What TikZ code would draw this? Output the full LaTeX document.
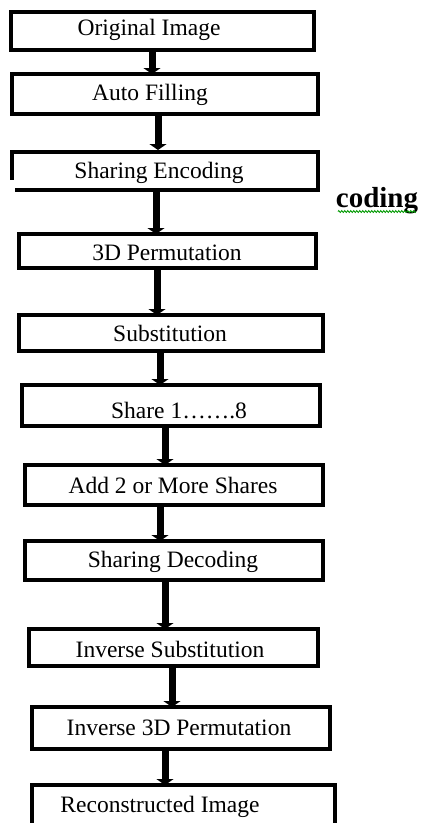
\documentclass[tikz,border=0pt]{standalone}
\usepackage{fontspec}
\setmainfont{Liberation Serif}
\usetikzlibrary{arrows.meta,decorations.pathmorphing}
\begin{document}
\begin{tikzpicture}[x=1pt,y=-1pt,
  box/.style={draw=black,line width=4pt,inner sep=0pt,outer sep=0pt,fill=white},
  lbl/.style={anchor=base,inner sep=0pt,font=\fontsize{23.5}{26}\selectfont},
  arr/.style={line width=7pt,-{Triangle[width=17pt,length=6pt]}}]
\clip (0,0) rectangle (422,823);
\useasboundingbox (0,0) rectangle (422,823);
\fill[white] (0,0) rectangle (422,823);
% boxes (path size = outer size - 4)
\node[box,minimum width=303pt,minimum height=38pt] (b1) at (162.5,31) {};
\node[box,minimum width=306pt,minimum height=40pt] (b2) at (165,94) {};
\node[draw=none,inner sep=0pt,outer sep=0pt,minimum width=310pt,minimum height=42pt] (b3) at (165,171) {};
\draw[line width=4pt] (15,190) -- (318,190) -- (318,152) -- (12,152) -- (12,180);
\node[box,minimum width=297pt,minimum height=34pt] (b4) at (167.5,251) {};
\node[box,minimum width=304pt,minimum height=36pt] (b5) at (171,333) {};
\node[box,minimum width=298pt,minimum height=41pt] (b6) at (171,405.5) {};
\node[box,minimum width=298pt,minimum height=40pt] (b7) at (174,485) {};
\node[box,minimum width=298pt,minimum height=39pt] (b8) at (174,560.5) {};
\node[box,minimum width=289pt,minimum height=37pt] (b9) at (173.5,647.5) {};
\node[box,minimum width=298pt,minimum height=42pt] (b10) at (181,728) {};
\node[box,minimum width=303pt,minimum height=43pt] (b11) at (183.5,806.5) {};
% labels
\node[lbl] (t1) at (149,35) {Original Image};
\node[lbl] (t2) at (150,100) {Auto Filling};
\node[lbl] (t3) at (159,178) {Sharing Encoding};
\node[lbl] (t4) at (167,260) {3D Permutation};
\node[lbl] (t5) at (170,341) {Substitution};
\node[lbl] (t6) at (179,418) {Share 1…….8};
\node[lbl] (t7) at (173,493) {Add 2 or More Shares};
\node[lbl] (t8) at (173,567) {Sharing Decoding};
\node[lbl] (t9) at (170,657) {Inverse Substitution};
\node[lbl] (t10) at (179,735) {Inverse 3D Permutation};
\node[lbl] (t11) at (160,812) {Reconstructed Image};
\node[anchor=base,inner sep=0pt,font=\fontsize{29}{32}\selectfont\bfseries] (cod) at (377,207) {coding};
\draw[green!60!black,line width=0.8pt,decorate,decoration={zigzag,amplitude=1pt,segment length=3pt}] (338,211.5) -- (416,211.5);
% arrow x positions
\coordinate (x1) at (152,0);
\coordinate (x2) at (158,0);
\coordinate (x3) at (156,0);
\coordinate (x4) at (157,0);
\coordinate (x5) at (160,0);
\coordinate (x6) at (165,0);
\coordinate (x7) at (160,0);
\coordinate (x8) at (165,0);
\coordinate (x9) at (172,0);
\coordinate (x10) at (165,0);
\draw[arr] (b1.south -| x1) -- (b2.north -| x1);
\draw[arr] (b2.south -| x2) -- (b3.north -| x2);
\draw[arr] (b3.south -| x3) -- (b4.north -| x3);
\draw[arr] (b4.south -| x4) -- (b5.north -| x4);
\draw[arr] (b5.south -| x5) -- (b6.north -| x5);
\draw[arr] (b6.south -| x6) -- (b7.north -| x6);
\draw[arr] (b7.south -| x7) -- (b8.north -| x7);
\draw[arr] (b8.south -| x8) -- (b9.north -| x8);
\draw[arr] (b9.south -| x9) -- (b10.north -| x9);
\draw[arr] (b10.south -| x10) -- (b11.north -| x10);
\end{tikzpicture}
\end{document}
